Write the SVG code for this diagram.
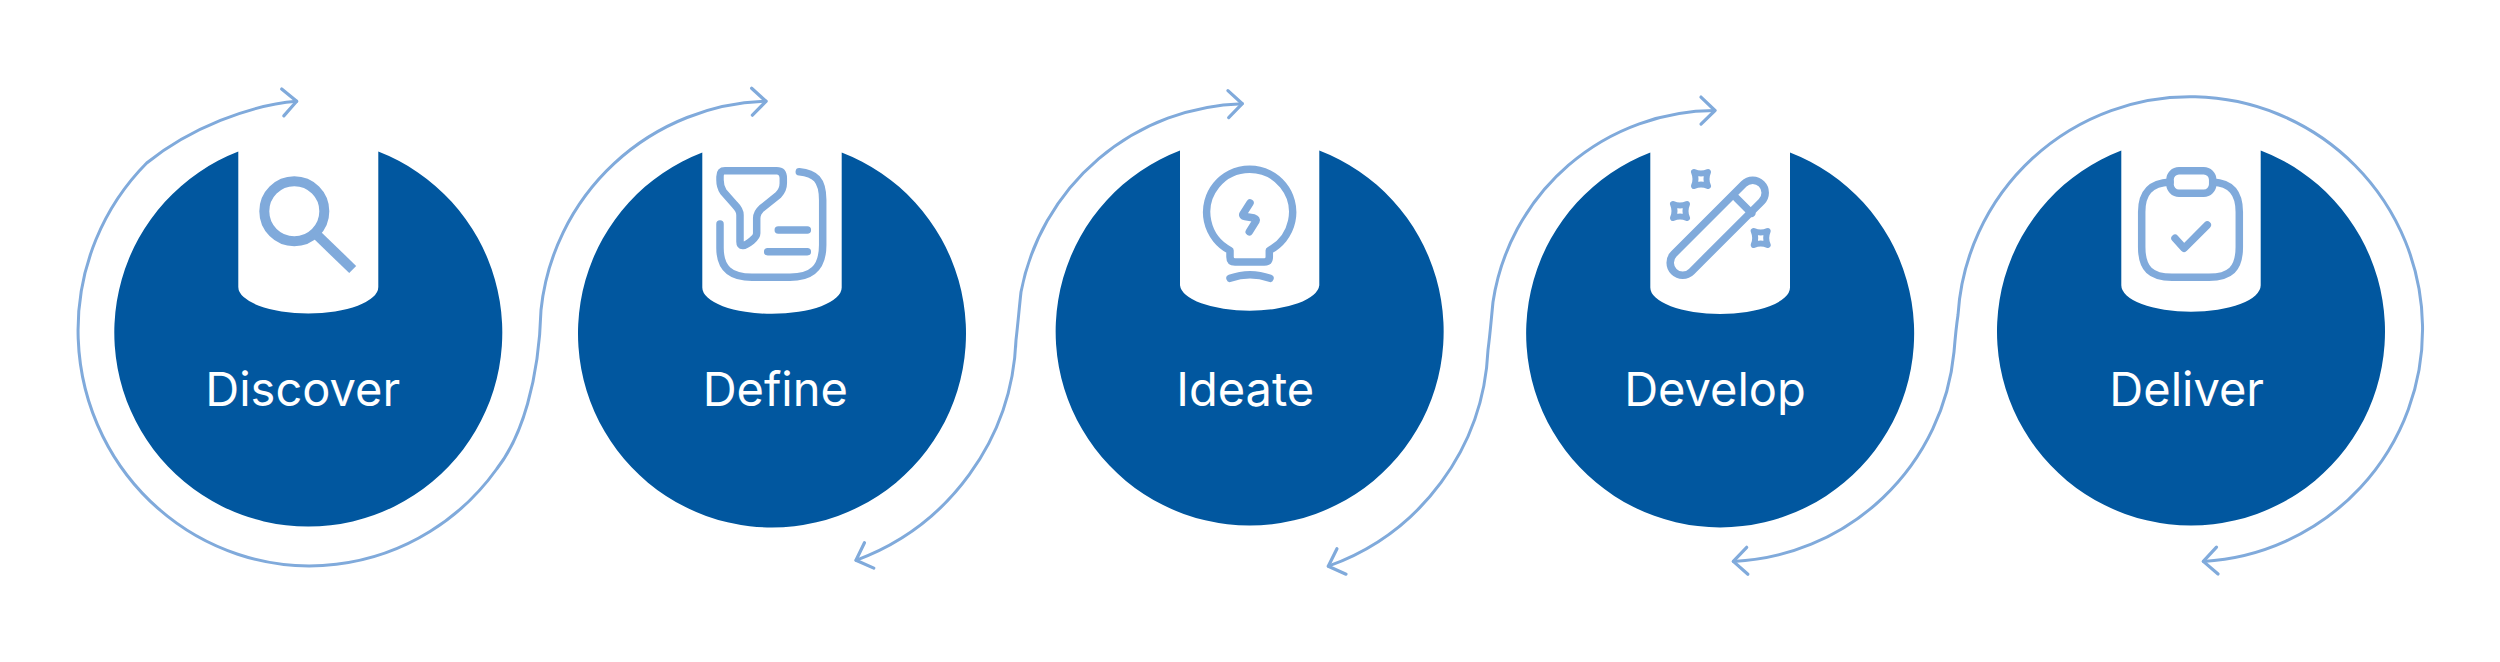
<svg xmlns="http://www.w3.org/2000/svg" width="2500" height="662" viewBox="0 0 2500 662">
<style>
.disc{fill:#01579F}
.lbl{font-family:Inter,"Liberation Sans",sans-serif;font-size:47px;font-weight:400;fill:#fff;text-anchor:middle}
.ico{fill:none;stroke:#80AADB;stroke-width:7.5;stroke-linecap:round;stroke-linejoin:round}
.con{fill:none;stroke:#80AADB;stroke-width:3;stroke-linecap:round;marker-start:url(#chev);marker-end:url(#chev)}
</style>
<defs>
<marker id="chev" markerUnits="userSpaceOnUse" viewBox="-18 -18 22 36" markerWidth="22" markerHeight="36" refX="0" refY="0" orient="auto-start-reverse">
<path d="M-14 -13.5L0 0L-14 13.5" fill="none" stroke="#80AADB" stroke-width="3.2" stroke-linecap="round" stroke-linejoin="round"/>
</marker>
<path id="spark" d="M-7 -7Q0 -4 7 -7Q4 0 7 7Q0 4 -7 7Q-4 0 -7 -7Z"/>
</defs>
<rect width="2500" height="662" fill="#fff"/>
<g id="connectors">
<path class="con" d="M296.7 101.3C250 105 190 128 146.7 163A231.5 235.5 0 1 0 496.7 469C522 437 539 380 541 310A233 233 0 0 1 766 101.3"/>
<path class="con" d="M856 560.3A245 245 0 0 0 1016 340C1018 323 1019 310 1021 292A232 232 0 0 1 1242.3 103.7"/>
<path class="con" d="M1328.3 566.2A241 241 0 0 0 1488 350C1490 335 1491 322 1493 302A225 225 0 0 1 1715 110.5"/>
<path class="con" d="M1733.3 561.4A232 232 0 0 0 1954 352C1955 340 1956 328 1958 315A232.5 232.5 0 1 1 2203.3 561.4"/>
</g>
<g id="discover">
<path class="disc" d="M238.3 151.6V287A70 26.4 0 0 0 378.3 287V151.6A194 194 0 1 1 238.3 151.6Z"/>
<circle cx="294.3" cy="211.3" r="30" fill="none" stroke="#80AADB" stroke-width="10"/>
<line x1="316" y1="234" x2="352.7" y2="269.5" stroke="#80AADB" stroke-width="10"/>
<text class="lbl" x="302.7" y="405.6">Discover</text>
</g>
<g id="define">
<path class="disc" d="M702.3 152.4V287.5A69.7 26.4 0 0 0 841.7 287.5V152.4A194 194 0 1 1 702.3 152.4Z"/>
<path class="ico" d="M725 170.7H776.7Q783.3 170.7 783.3 178.3V183.3Q783.3 190 778.3 195L761.7 208.3Q756.7 212.7 756.7 218.3V233.3Q756.7 236.7 751.7 240.7Q740 250 740 241.7V215Q740 210 735 205L723.3 191.7Q720 186.7 720 180V176.7Q720 170.7 725 170.7Z"/>
<path class="ico" d="M799.3 171.7C815 173 822.7 180 822.7 200V245C822.7 268 812 277.3 790 277.3H752C730 277.3 720 268 720 248V224"/>
<path class="ico" d="M778.3 230H807.3M767.7 251.7H807.3"/>
<text class="lbl" x="775.3" y="405.6">Define</text>
</g>
<g id="ideate">
<path class="disc" d="M1180 150.4V285.3A69.7 26.4 0 0 0 1319.3 285.3V150.4A194 194 0 1 1 1180 150.4Z"/>
<path class="ico" d="M1230 250.5V257Q1230 262 1235 262H1264.3Q1269.3 262 1269.3 257V250.5A43 43 0 1 0 1230 250.5Z"/>
<path class="ico" d="M1230 278.3Q1250 271 1270 278.3"/>
<path class="ico" d="M1250 203L1243 214Q1242 216 1245 216.5L1254 218Q1257 219 1256 221L1249.3 231.7"/>
<text class="lbl" x="1245.3" y="405.6">Ideate</text>
</g>
<g id="develop">
<path class="disc" d="M1650.3 152.4V287.5A69.7 26.4 0 0 0 1790 287.5V152.4A194 194 0 1 1 1650.3 152.4Z"/>
<rect class="ico" x="-62" y="-12.5" width="124" height="25" rx="12.5" transform="translate(1717.7 227.7) rotate(-45)"/>
<line class="ico" x1="1736.7" y1="198.3" x2="1751.7" y2="213.3"/>
<use href="#spark" class="ico" style="stroke-width:6" x="1701" y="179"/>
<use href="#spark" class="ico" style="stroke-width:6" x="1680" y="211"/>
<use href="#spark" class="ico" style="stroke-width:6" x="1760.7" y="238"/>
<text class="lbl" x="1715" y="405.6">Develop</text>
</g>
<g id="deliver">
<path class="disc" d="M2121.3 150.4V285.3A69.7 26.4 0 0 0 2260.7 285.3V150.4A194 194 0 1 1 2121.3 150.4Z"/>
<rect class="ico" x="2170" y="170.7" width="42.7" height="22.6" rx="9"/>
<path class="ico" d="M2170 182C2150 183 2141.7 193 2141.7 212V247C2141.7 269 2151 277.3 2172 277.3H2209C2230 277.3 2239.3 269 2239.3 247V212C2239.3 193 2231 183 2212.7 182"/>
<path class="ico" d="M2175 238.3L2184 248.3L2207.3 225"/>
<text class="lbl" x="2186.7" y="405.6">Deliver</text>
</g>
</svg>
